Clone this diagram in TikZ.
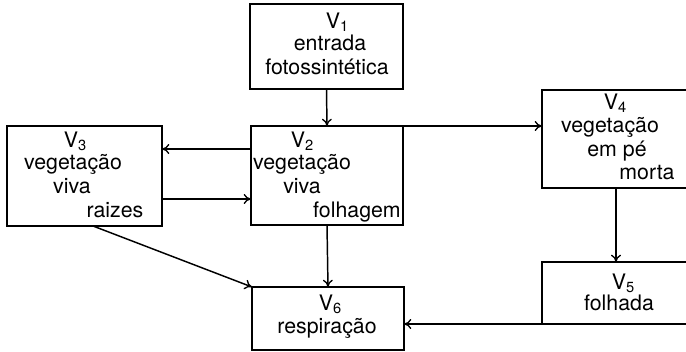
\documentclass[tikz,border=0pt]{standalone}
\usepackage{fontspec}
\setmainfont{TeX Gyre Heros}
\usetikzlibrary{arrows.meta}
\newcommand{\vsub}[1]{V\raisebox{-2.2pt}{\fontsize{11}{11}\selectfont #1}}
\begin{document}
\begin{tikzpicture}[x=0.75pt,y=-0.75pt,
  box/.style={draw, line width=1.5pt, inner sep=0pt, outer sep=0pt},
  lbl/.style={anchor=base, inner sep=0pt, font=\fontsize{16}{18}\selectfont},
  arr/.style={line width=1.1pt, -{To[length=5.5pt,width=7.5pt,line width=1pt]}}]
\useasboundingbox (0,0) rectangle (686,352);
\clip (0,0) rectangle (686,352);
\fill[white] (0,0) rectangle (686,352);
% boxes
\node[box, minimum width=153*0.75pt, minimum height=85*0.75pt] (b1) at (326.5,46.5) {};
\node[box, minimum width=152*0.75pt, minimum height=99*0.75pt] (b2) at (327,175.5) {};
\node[box, minimum width=155*0.75pt, minimum height=100*0.75pt] (b3) at (84.5,176) {};
\node[box, minimum width=158*0.75pt, minimum height=98*0.75pt] (b4) at (621,139) {};
\node[box, minimum width=158*0.75pt, minimum height=62*0.75pt] (b5) at (621,293) {};
\node[box, minimum width=152*0.75pt, minimum height=63*0.75pt] (b6) at (328,318.5) {};
% texts
\node[lbl] (t1a) at (337,29) {\vsub{1}};
\node[lbl] (t1b) at (330,51) {entrada};
\node[lbl] (t1c) at (327,75) {fotossintética};
\node[lbl] (t2a) at (302,148) {\vsub{2}};
\node[lbl] (t2b) at (302,170) {vegetação};
\node[lbl] (t2c) at (302,194) {viva};
\node[lbl] (t2d) at (357,218) {folhagem};
\node[lbl] (t3a) at (75,148) {\vsub{3}};
\node[lbl] (t3b) at (73,170) {vegetação};
\node[lbl] (t3c) at (72,194) {viva};
\node[lbl] (t3d) at (115,218) {raizes};
\node[lbl] (t4a) at (615,110) {\vsub{4}};
\node[lbl] (t4b) at (610,133) {vegetação};
\node[lbl] (t4c) at (617,157) {em pé};
\node[lbl] (t4d) at (647,180) {morta};
\node[lbl] (t5a) at (623,290) {\vsub{5}};
\node[lbl] (t5b) at (619,311) {folhada};
\node[lbl] (t6a) at (330,311) {\vsub{6}};
\node[lbl] (t6b) at (327,334) {respiração};
% helper coordinates
\coordinate (ya) at (0,149);
\coordinate (yb) at (0,199);
\coordinate (xa) at (616,0);
\coordinate (xb) at (93,0);
% connectors
\draw[arr] (b1.south) -- (b2.north);
\draw[arr] (b2.west |- ya) -- (b3.east |- ya);
\draw[arr] (b3.east |- yb) -- (b2.west |- yb);
\draw[arr] (b2.north east) -- (b4.west |- b2.north east);
\draw[arr] (b4.south -| xa) -- (b5.north -| xa);
\draw[arr] (b5.south west) -- (b6.east |- b5.south west);
\draw[arr] (b2.south) -- (b6.north);
\draw[arr] (b3.south -| xb) -- (b6.north west);
\end{tikzpicture}
\end{document}
